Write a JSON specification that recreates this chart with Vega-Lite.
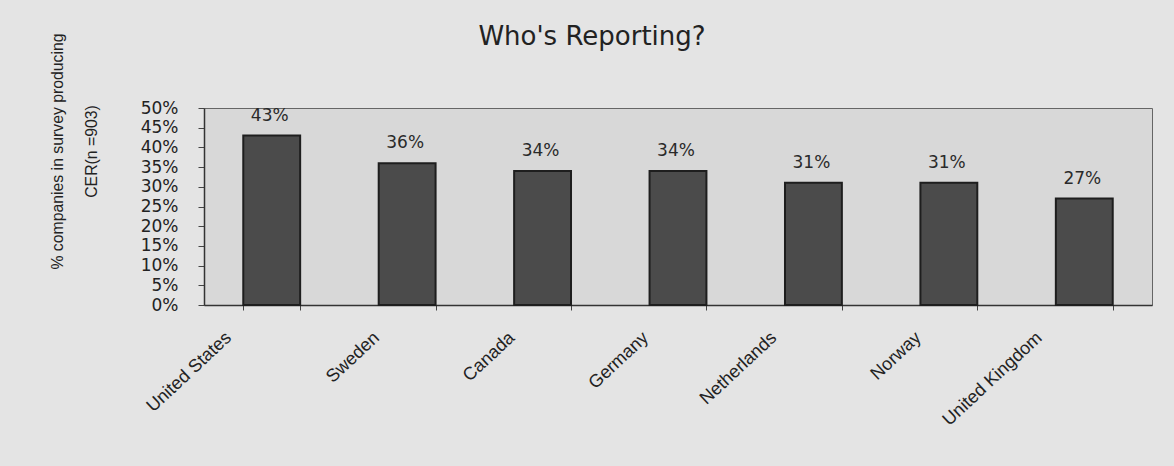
{
  "$schema": "https://vega.github.io/schema/vega-lite/v6.json",
  "autosize": {"type": "none"},
  "width": 948,
  "height": 197,
  "padding": {"left": 204, "top": 108, "right": 22, "bottom": 161},
  "background": "#e4e4e4",
  "title": {
    "text": "Who's Reporting?",
    "font": "DejaVu Sans",
    "fontSize": 26,
    "fontWeight": "normal",
    "color": "#222222",
    "anchor": "middle",
    "dx": -86,
    "offset": -17
  },
  "data": {
    "values": [
      {"country": "United States", "share": 0.43},
      {"country": "Sweden", "share": 0.36},
      {"country": "Canada", "share": 0.34},
      {"country": "Germany", "share": 0.34},
      {"country": "Netherlands", "share": 0.31},
      {"country": "Norway", "share": 0.31},
      {"country": "United Kingdom", "share": 0.27}
    ]
  },
  "encoding": {
    "x": {
      "field": "country",
      "type": "nominal",
      "sort": null,
      "scale": {"paddingInner": 0.58, "paddingOuter": 0.29},
      "axis": {
        "title": null,
        "labelAngle": -43,
        "labelAlign": "right",
        "labelBaseline": "middle",
        "labelFont": "Liberation Sans",
        "labelFontSize": 18,
        "labelColor": "#222222",
        "labelPadding": 25,
        "labelOffset": {"expr": "-20 - 1.8 * length(datum.label)"},
        "tickBand": "extent",
        "tickSize": 5,
        "tickColor": "#444444",
        "domainColor": "#333333",
        "domainWidth": 1.5
      }
    },
    "y": {
      "field": "share",
      "type": "quantitative",
      "scale": {"domain": [0, 0.5], "nice": false},
      "axis": {
        "title": ["% companies in survey producing", "CER(n =903)"],
        "titleFont": "Liberation Sans",
        "titleFontSize": 15.8,
        "titleFontWeight": "normal",
        "titleColor": "#222222",
        "titleLineHeight": 34,
        "titleAngle": -90,
        "titleAlign": "center",
        "titleBaseline": "middle",
        "titleX": -147,
        "titleY": 43,
        "values": [0, 0.05, 0.1, 0.15, 0.2, 0.25, 0.3, 0.35, 0.4, 0.45, 0.5],
        "format": ".0%",
        "labelFont": "DejaVu Sans",
        "labelFontSize": 17,
        "labelColor": "#222222",
        "labelPadding": 20,
        "labelFlush": false,
        "labelOverlap": false,
        "grid": false,
        "tickSize": 6,
        "tickColor": "#444444",
        "domainColor": "#333333",
        "domainWidth": 1.5
      }
    }
  },
  "layer": [
    {
      "mark": {"type": "bar", "color": "#4b4b4b", "stroke": "#1e1e1e", "strokeWidth": 2}
    },
    {
      "mark": {
        "type": "text",
        "baseline": "alphabetic",
        "dy": -15,
        "dx": -2,
        "font": "DejaVu Sans",
        "fontSize": 17,
        "color": "#2a2a2a"
      },
      "encoding": {
        "text": {"field": "share", "type": "quantitative", "format": ".0%"}
      }
    }
  ],
  "config": {
    "view": {"fill": "#d8d8d8", "stroke": "#666666", "strokeWidth": 1}
  }
}
